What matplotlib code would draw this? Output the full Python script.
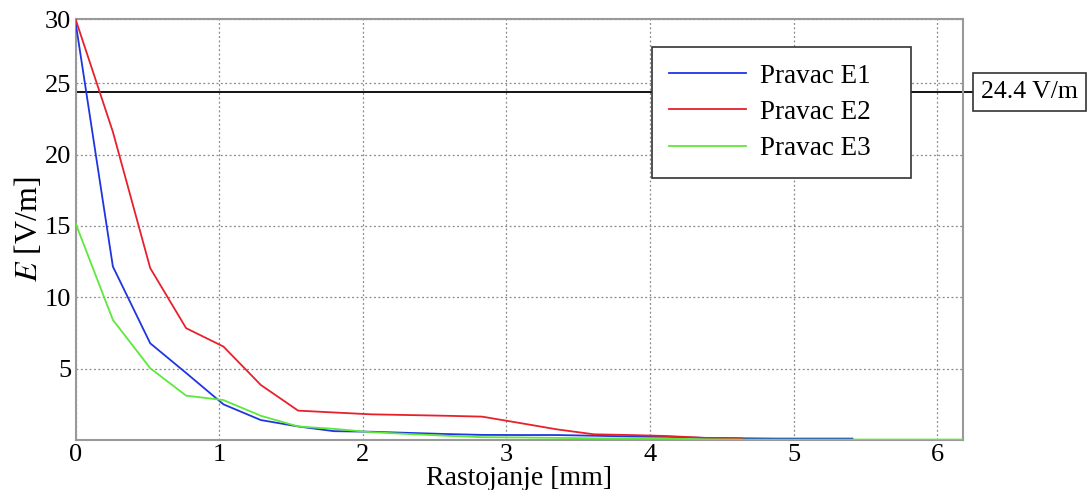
import matplotlib
matplotlib.use("Agg")
import matplotlib.pyplot as plt

plt.rcParams['font.family'] = ['Liberation Serif', 'DejaVu Serif']
plt.rcParams['mathtext.fontset'] = 'stix'

# distance along each direction [mm]
rastojanje = [0.00, 0.26, 0.52, 0.77, 1.03, 1.29, 1.55, 1.80, 2.06, 2.32,
              2.58, 2.83, 3.09, 3.35, 3.61, 3.86, 4.12, 4.38, 4.64, 4.89,
              5.15, 5.41, 5.67, 5.92, 6.18]

# field strength [V/m]
e1 = [29.3, 12.16, 6.78, 4.7, 2.5, 1.4, 0.95, 0.62, 0.58, 0.5,
      0.42, 0.36, 0.35, 0.35, 0.3, 0.25, 0.22, 0.15, 0.12, 0.1,
      0.1, 0.1]
e2 = [29.5, 21.6, 12.05, 7.84, 6.55, 3.86, 2.06, 1.93, 1.80, 1.75,
      1.70, 1.64, 1.2, 0.75, 0.4, 0.35, 0.28, 0.15, 0.12]
e3 = [15.2, 8.42, 5.03, 3.11, 2.8, 1.7, 0.95, 0.78, 0.55, 0.42,
      0.3, 0.2, 0.18, 0.15, 0.12, 0.1, 0.1, 0.05, 0.03, 0.03,
      0.03, 0.03, 0.03, 0.03, 0.03]

labels = ['Pravac E1', 'Pravac E2', 'Pravac E3']
colors = ['#1f35e0', '#e8202c', '#5ee83a']
limit = 24.4

xticks = [0, 1, 2, 3, 4, 5, 6]
yticks = [5, 10, 15, 20, 25, 29.5]
ytick_labels = ['5', '10', '15', '20', '25', '30']

fig = plt.figure(figsize=(10.9, 4.9), dpi=100)
ax = fig.add_axes([0.0693, 0.102, 0.8142, 0.859])

for series, lab, col in zip([e1, e2, e3], labels, colors):
    ax.plot(rastojanje[:len(series)], series, color=col, lw=1.3, label=lab, zorder=3)

# limit line, running out to the value box on the right
ax.plot([0, 1.0135], [limit, limit], color='black', lw=1.3,
        transform=ax.get_yaxis_transform(), clip_on=False, zorder=2)
ax.text(1.0205, limit, f'{limit} V/m', transform=ax.get_yaxis_transform(),
        ha='left', va='center', fontsize=18.5,
        bbox=dict(boxstyle='square,pad=0.3', fc='white', ec='#333333', lw=1.2))

ax.set_xlim(0, 6.18)
ax.set_ylim(0, 29.5)
ax.set_xticks(xticks)
ax.set_yticks(yticks)
ax.set_yticklabels(ytick_labels)
ax.tick_params(length=0, labelsize=19, pad=3)

ax.grid(True, linestyle=(0, (1.5, 2)), color='#888888', lw=0.9)
for s in ax.spines.values():
    s.set_color('#999999')
    s.set_linewidth(1.5)

ax.set_xlabel('Rastojanje [mm]', fontsize=20, labelpad=0)
ax.set_ylabel('$E$ [V/m]', fontsize=23, labelpad=1)

leg = ax.legend(loc='upper left', bbox_to_anchor=(0.65, 0.632, 0.291, 0.301),
                mode='expand', fontsize=19.5,
                frameon=True, fancybox=False, framealpha=1, edgecolor='#333333',
                handlelength=2.85, handletextpad=0.52, labelspacing=0.42,
                borderpad=0.6, borderaxespad=0)
leg.get_frame().set_linewidth(1.2)
leg.set_zorder(5)

fig.savefig('out.png', dpi=100)
